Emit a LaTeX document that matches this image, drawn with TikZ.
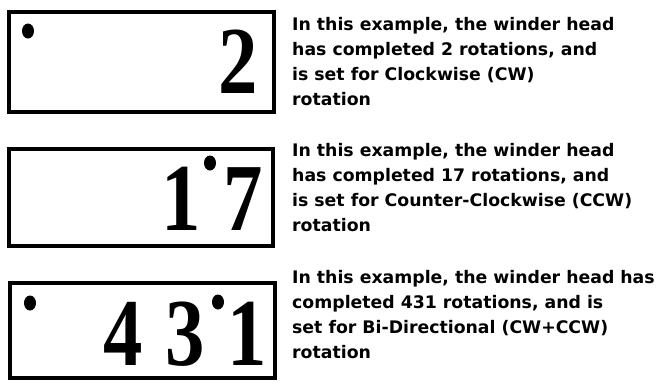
\documentclass[tikz,border=0pt]{standalone}
\usepackage{fontspec}
\usepackage{tikz}
\usetikzlibrary{shapes.geometric, positioning}

\newfontfamily\notefont{DejaVu Sans}
\newfontfamily\digitfont{Liberation Serif}
\newcommand{\dig}[1]{\scalebox{0.82}[1]{#1}}

\tikzset{
    counterbox/.style={draw=black, line width=4pt},
    digit/.style={font=\digitfont\bfseries\fontsize{96}{96}\selectfont, inner sep=0pt, anchor=base, text height=66pt, text depth=0pt},
    mark dot/.style={ellipse, fill=black, inner sep=0pt, minimum width=12pt, minimum height=15pt},
    note/.style={font=\notefont\bfseries\fontsize{17.3}{25}\selectfont, align=left, inner sep=0pt, anchor=north west}
}

\begin{document}
\begin{tikzpicture}[x=1pt, y=-1pt]
    \useasboundingbox[fill=white] (0,0) rectangle (657,381);

    % Counter displays
    \draw[counterbox] (9,12) rectangle (274,112);
    \draw[counterbox] (9,149) rectangle (273,246);
    \draw[counterbox] (10,283) rectangle (275,378);

    % CW
    \node[mark dot] (dotA) at (28,31) {};
    \node[digit] (twoA) at (238,93) {\dig{2}};

    % CCW
    \node[digit] (oneB) at (181,230) {\dig{1}};
    \node[digit] (sevenB) at (243,230) {\dig{7}};
    \node[mark dot] (dotB) at (210,163) {};

    % CW+CCW
    \node[mark dot] (dotC) at (30,303) {};
    \node[digit] (fourC) at (123,365) {\dig{4}};
    \node[digit] (threeC) at (185,365) {\dig{3}};
    \node[digit] (oneC) at (247,365) {\dig{1}};
    \node[mark dot] (dotD) at (218,302) {};

    % Explanations
    \node[note] (noteA) at (292,17) {In this example, the winder head\\has completed 2 rotations, and\\is set for Clockwise (CW)\\rotation};
    \node[note] (noteB) at (292,143) {In this example, the winder head\\has completed 17 rotations, and\\is set for Counter-Clockwise (CCW)\\rotation};
    \node[note] (noteC) at (292,270) {In this example, the winder head has\\completed 431 rotations, and is\\set for Bi-Directional (CW+CCW)\\rotation};
\end{tikzpicture}
\end{document}
